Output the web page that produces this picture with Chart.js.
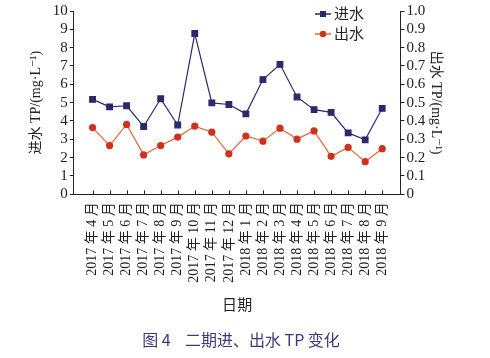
<!DOCTYPE html>
<html><head><meta charset="utf-8">
<script src="https://cdn.jsdelivr.net/npm/chart.js@4/dist/chart.umd.min.js"></script>
<style>html,body{margin:0;padding:0;background:#fff;}#wrap{width:490px;height:358px;}</style>
</head><body><div id="wrap"><canvas id="c" width="490" height="358"></canvas></div>
<script>
const months = ['2017 年 4 月','2017 年 5 月','2017 年 6 月','2017 年 7 月','2017 年 8 月','2017 年 9 月','2017 年 10 月','2017 年 11 月','2017 年 12 月','2018 年 1 月','2018 年 2 月','2018 年 3 月','2018 年 4 月','2018 年 5 月','2018 年 6 月','2018 年 7 月','2018 年 8 月','2018 年 9 月'];
const inflowTP = [5.18,4.77,4.83,3.70,5.21,3.78,8.77,4.99,4.90,4.39,6.26,7.09,5.31,4.62,4.47,3.35,2.97,4.69];
const outflowTP = [0.364,0.266,0.381,0.215,0.266,0.312,0.372,0.339,0.221,0.318,0.290,0.361,0.301,0.346,0.207,0.256,0.178,0.249];
const leftTicks = [0,1,2,3,4,5,6,7,8,9,10];
const rightTicks = [0,0.1,0.2,0.3,0.4,0.5,0.6,0.7,0.8,0.9,1.0];

const NAVY = '#2a2a6c', RED = '#d0301e', ORANGE = '#e0683a';
const SERIF = '"Liberation Serif","DejaVu Serif","Noto Sans CJK SC",serif';

const xInwardTicks = {
  id:'xInwardTicks',
  afterDraw(chart){
    const ctx=chart.ctx, xs=chart.scales.x, ca=chart.chartArea;
    ctx.save(); ctx.strokeStyle='#222'; ctx.lineWidth=1;
    months.forEach((m,i)=>{
      const px=Math.round(xs.getPixelForValue(i))+0.5;
      ctx.beginPath(); ctx.moveTo(px,ca.bottom); ctx.lineTo(px,ca.bottom-4); ctx.stroke();
    });
    ctx.restore();
  }
};
const customLegend = {
  id:'customLegend',
  afterDraw(chart){
    const ctx=chart.ctx;
    const items=[{t:'进水',c:NAVY,lc:NAVY,shape:'sq',y:14},{t:'出水',c:RED,lc:ORANGE,shape:'ci',y:34}];
    ctx.save();
    items.forEach(it=>{
      ctx.strokeStyle=it.lc; ctx.lineWidth=1.5;
      ctx.beginPath(); ctx.moveTo(315,it.y); ctx.lineTo(331,it.y); ctx.stroke();
      ctx.fillStyle=it.c;
      if(it.shape==='sq'){ctx.fillRect(320,it.y-3,6,6);} else {ctx.beginPath();ctx.arc(323,it.y,3.2,0,Math.PI*2);ctx.fill();}
      ctx.fillStyle='#222'; ctx.font='15px '+SERIF; ctx.textBaseline='middle'; ctx.textAlign='left';
      ctx.fillText(it.t,334,it.y+1);
    });
    ctx.restore();
  }
};

new Chart(document.getElementById('c'),{
  type:'line',
  data:{datasets:[
    {label:'进水',data:inflowTP.map((v,i)=>({x:i,y:v})),yAxisID:'y',borderColor:NAVY,backgroundColor:NAVY,pointBorderColor:NAVY,borderWidth:1.2,pointStyle:'rect',pointRadius:4,tension:0},
    {label:'出水',data:outflowTP.map((v,i)=>({x:i,y:v})),yAxisID:'y1',borderColor:ORANGE,backgroundColor:RED,pointBorderColor:RED,borderWidth:1.2,pointStyle:'circle',pointRadius:3,tension:0}
  ]},
  options:{
    responsive:false,animation:false,
    layout:{padding:{top:9,left:28,right:36,bottom:2}},
    plugins:{
      legend:{display:false},tooltip:{enabled:false},
      title:{display:true,position:'bottom',text:'图 4    二期进、出水 TP 变化',color:'#3a3a7c',font:{family:'"Noto Sans CJK SC","Noto Sans",sans-serif',size:16,weight:'normal'},padding:{top:16,bottom:6}}
    },
    scales:{
      x:{type:'linear',min:-1.1,max:18.07,
        afterBuildTicks(axis){axis.ticks=months.map((m,i)=>({value:i}));},
        grid:{display:true,drawOnChartArea:false,drawTicks:false},
        border:{display:true,color:'#222',width:1},
        ticks:{autoSkip:false,maxRotation:90,minRotation:90,padding:8,color:'#222',font:{family:SERIF,size:14},callback:(v)=>months[v]},
        title:{display:true,text:'日期',color:'#222',font:{family:SERIF,size:15},padding:{top:6,bottom:0}}
      },
      y:{position:'left',min:0,max:10,
        afterBuildTicks(axis){axis.ticks=leftTicks.map(v=>({value:v}));},
        grid:{drawOnChartArea:false,drawTicks:true,tickLength:4,color:'#222'},
        border:{display:true,color:'#222',width:1},
        ticks:{autoSkip:false,padding:2,color:'#222',font:{family:SERIF,size:15},callback:v=>String(v)},
        title:{display:true,text:'进水 TP/(mg·L⁻¹)',color:'#222',font:{family:SERIF,size:14},padding:{top:0,bottom:6}}
      },
      y1:{position:'right',min:0,max:1,
        afterBuildTicks(axis){axis.ticks=rightTicks.map(v=>({value:v}));},
        grid:{drawOnChartArea:false,drawTicks:true,tickLength:4,color:'#222'},
        border:{display:true,color:'#222',width:1},
        ticks:{autoSkip:false,padding:2,color:'#222',font:{family:SERIF,size:15},callback:v=>(v===0?'0':v.toFixed(1))},
        title:{display:true,text:'出水 TP/(mg·L⁻¹)',color:'#222',font:{family:SERIF,size:14},padding:{top:10,bottom:0}}
      }
    }
  },
  plugins:[xInwardTicks,customLegend]
});
</script></body></html>
